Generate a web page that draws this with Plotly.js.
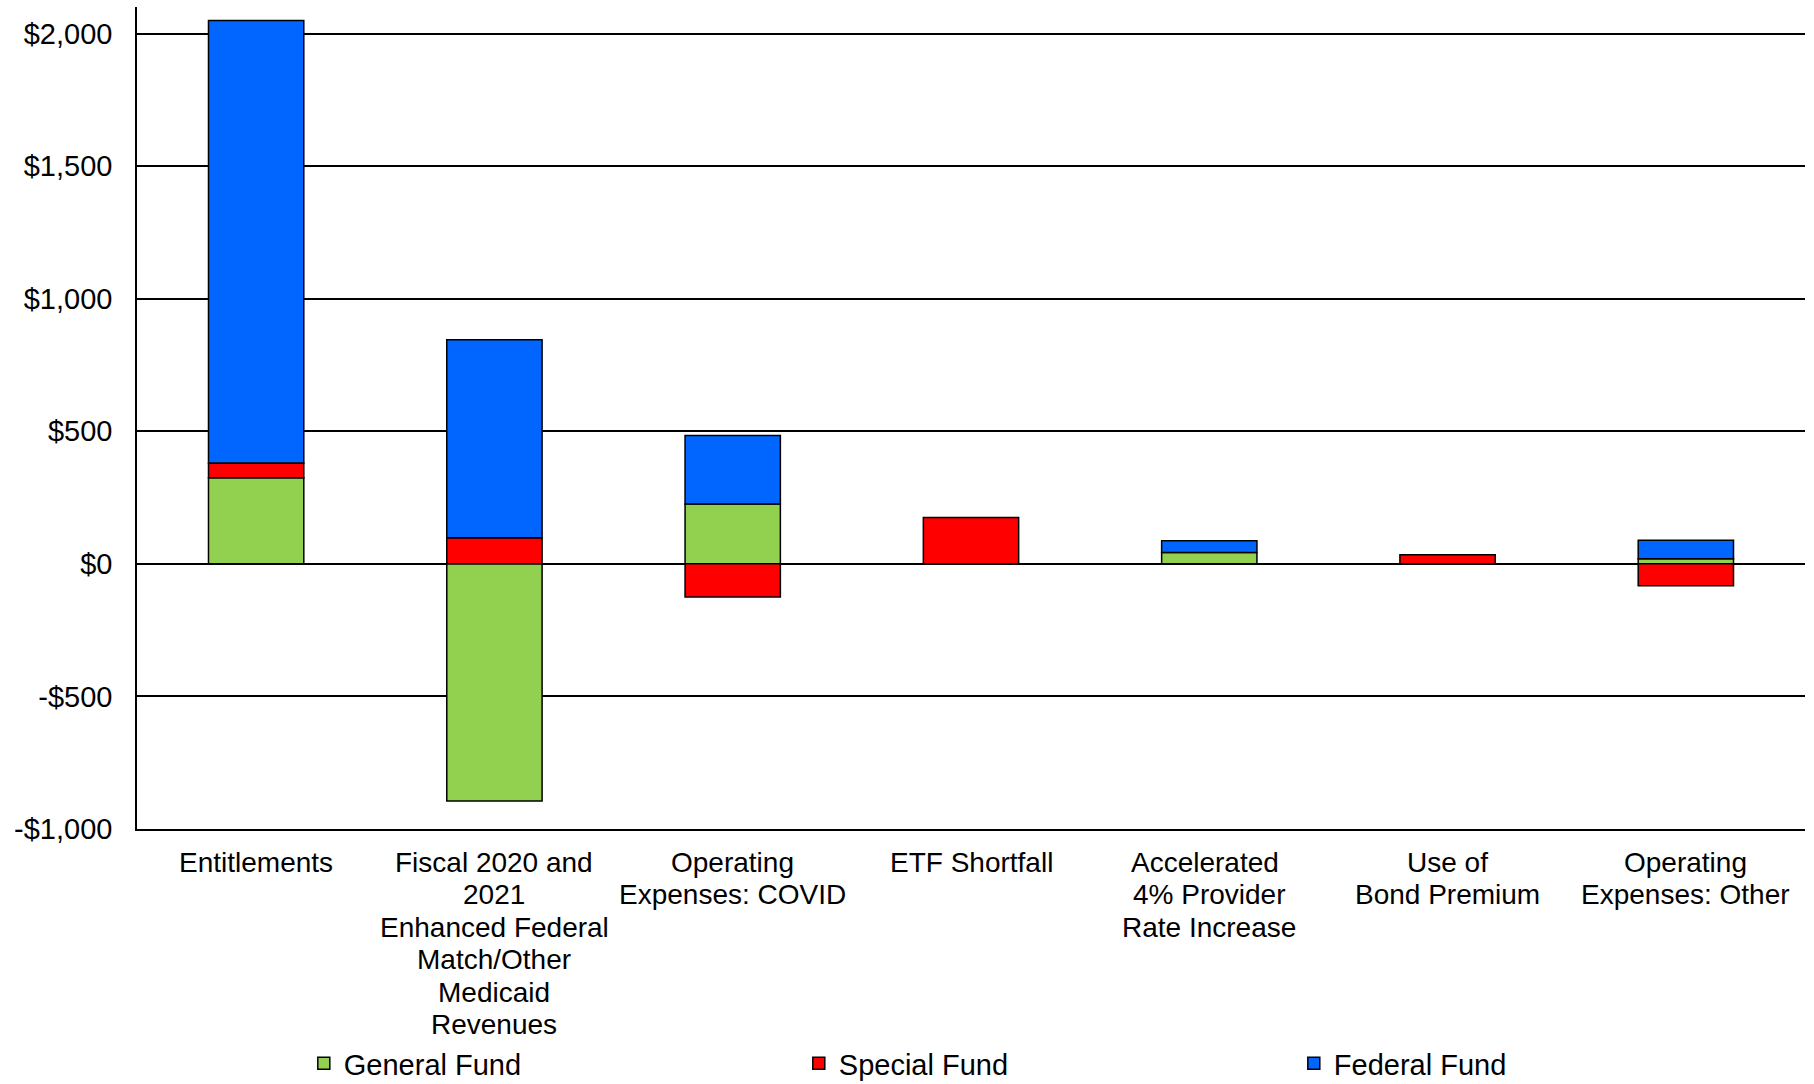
<!DOCTYPE html>
<html>
<head>
<meta charset="utf-8">
<script src="https://cdn.plot.ly/plotly-3.0.1.min.js"></script>
<style>
  html, body { margin: 0; padding: 0; background: #ffffff; }
  #chart { width: 1814px; height: 1084px; }
</style>
</head>
<body>
<div id="chart"></div>
<script>
// ---- Data (values in $ millions) ----
const categories = [
  "Entitlements",
  "Fiscal 2020 and 2021 Enhanced Federal Match/Other Medicaid Revenues",
  "Operating Expenses: COVID",
  "ETF Shortfall",
  "Accelerated 4% Provider Rate Increase",
  "Use of Bond Premium",
  "Operating Expenses: Other"
];
const categoryLabelLines = [
  ["Entitlements"],
  ["Fiscal 2020 and", "2021", "Enhanced Federal", "Match/Other", "Medicaid", "Revenues"],
  ["Operating", "Expenses: COVID"],
  ["ETF Shortfall"],
  ["Accelerated\u00a0", "4% Provider", "Rate Increase"],
  ["Use of", "Bond Premium"],
  ["Operating", "Expenses: Other"]
];
const seriesNames = ["General Fund", "Special Fund", "Federal Fund"];
const generalFund = [325, -894, 226, null, 43, null, 19];
const specialFund = [55, 98, -125, 175, null, 34, -83];
const federalFund = [1669, 747, 258, null, 44, null, 70];
const yTickVals = [-1000, -500, 0, 500, 1000, 1500, 2000];
const yTickText = ["-$1,000", "-$500", "$0", "$500", "$1,000", "$1,500", "$2,000"];

// ---- Styling ----
const FONT = "Liberation Sans, Arial, sans-serif";
const colors = ["#92D050", "#FF0000", "#0066FF"];
const seriesValues = [generalFund, specialFund, federalFund];

const traces = seriesValues.map((vals, i) => ({
  type: "bar",
  name: seriesNames[i],
  x: categories,
  y: vals,
  marker: { color: colors[i], line: { color: "#000000", width: 1.5 } },
  hoverinfo: "x+y+name"
}));

const annotations = [];
categoryLabelLines.forEach((lines, ci) => {
  lines.forEach((line, li) => {
    annotations.push({
      xref: "x", yref: "paper",
      x: categories[ci], y: 0,
      text: line,
      showarrow: false,
      xanchor: "center", yanchor: "middle",
      yshift: -(33.5 + li * 32.4),
      font: { family: FONT, size: 28, color: "#000000" }
    });
  });
});

const layout = {
  width: 1814,
  height: 1084,
  margin: { l: 136.5, r: 9, t: 7, b: 254.5 },
  paper_bgcolor: "#ffffff",
  plot_bgcolor: "#ffffff",
  barmode: "relative",
  bargap: 0.6,
  font: { family: FONT, size: 28, color: "#000000" },
  xaxis: {
    type: "category",
    showticklabels: false,
    showgrid: false,
    showline: true,
    linecolor: "#000000",
    linewidth: 1.5,
    ticks: "",
    zeroline: false
  },
  yaxis: {
    range: [-1000, 2100],
    tickvals: yTickVals,
    ticktext: yTickText,
    showgrid: true,
    gridcolor: "#000000",
    gridwidth: 1.5,
    zeroline: true,
    zerolinecolor: "#000000",
    zerolinewidth: 1.5,
    showline: true,
    linecolor: "#000000",
    linewidth: 1.5,
    ticks: "",
    ticklabelstandoff: 17,
    tickfont: { family: FONT, size: 29, color: "#000000" }
  },
  showlegend: true,
  legend: {
    orientation: "h",
    xref: "paper",
    yref: "container",
    x: 0.100,
    y: 0.019,
    xanchor: "left",
    yanchor: "middle",
    entrywidth: 450,
    entrywidthmode: "pixels",
    traceorder: "normal",
    font: { family: FONT, size: 29, color: "#000000" },
    bgcolor: "rgba(0,0,0,0)"
  },
  annotations: annotations
};

Plotly.newPlot("chart", traces, layout, { displayModeBar: false, responsive: false });
</script>
</body>
</html>
